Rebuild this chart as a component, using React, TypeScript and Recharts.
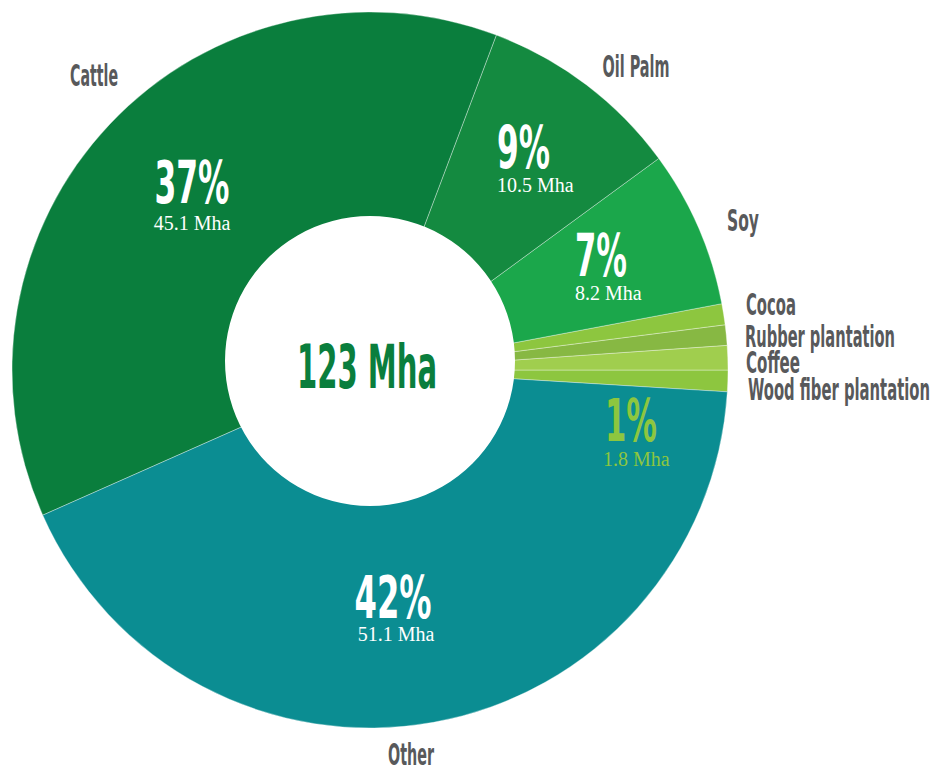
import React from 'react';
import { PieChart, Pie, Cell, Label } from 'recharts';

// Slices in drawing order (counter-clockwise from just below 3 o'clock)
const sliceNames = ['Wood fiber plantation', 'Coffee', 'Rubber plantation', 'Cocoa', 'Soy', 'Oil Palm', 'Cattle', 'Other'];
// Share of the ring as drawn (percent)
const sliceShares = [0.97, 1.1, 0.92, 0.95, 7.1, 9.2, 37.4, 42.4];
const pctLabels = ['1%', '', '', '', '7%', '9%', '37%', '42%'];
const mhaLabels = ['1.8 Mha', '', '', '', '8.2 Mha', '10.5 Mha', '45.1 Mha', '51.1 Mha'];
const totalLabel = '123 Mha';
const holeData = [{ name: 'total', value: 1 }];

const COLORS = ['#8dc63f', '#a0ce4e', '#87b843', '#8dc63f', '#1ba74b', '#148a40', '#0a7e3d', '#0b8d92'];

const data = sliceNames.map((name, i) => ({ name, value: sliceShares[i], pct: pctLabels[i], mha: mhaLabels[i] }));

const CONDENSED = "'Liberation Sans Narrow', 'DejaVu Sans Condensed', 'Arial Narrow', sans-serif";
const SERIF = "'Liberation Serif', 'DejaVu Serif', serif";

type Pos = { dx: number; dy: number; anchor: 'start' | 'middle' | 'end'; w: number };

const NAME_POS: Record<string, Pos> = {
  Cattle: { dx: -276, dy: -284, anchor: 'middle', w: 48 },
  'Oil Palm': { dx: 266, dy: -293, anchor: 'middle', w: 67 },
  Soy: { dx: 373, dy: -139, anchor: 'middle', w: 32 },
  Other: { dx: 41, dy: 395, anchor: 'middle', w: 46 },
  Cocoa: { dx: 376, dy: -55, anchor: 'start', w: 50 },
  'Rubber plantation': { dx: 375, dy: -23, anchor: 'start', w: 150 },
  Coffee: { dx: 376, dy: 3, anchor: 'start', w: 54 },
  'Wood fiber plantation': { dx: 378, dy: 30, anchor: 'start', w: 182 },
};

const PCT_POS: Record<string, { main: Pos; sub: Pos; color: string }> = {
  Cattle: { main: { dx: -178, dy: -167, anchor: 'middle', w: 75 }, sub: { dx: -178, dy: -140, anchor: 'middle', w: 90 }, color: '#ffffff' },
  'Oil Palm': { main: { dx: 127, dy: -202, anchor: 'start', w: 53 }, sub: { dx: 127, dy: -178, anchor: 'start', w: 85 }, color: '#ffffff' },
  Soy: { main: { dx: 205, dy: -94, anchor: 'start', w: 52 }, sub: { dx: 205, dy: -70, anchor: 'start', w: 75 }, color: '#ffffff' },
  Other: { main: { dx: 23, dy: 248, anchor: 'middle', w: 77 }, sub: { dx: 26, dy: 271, anchor: 'middle', w: 82 }, color: '#ffffff' },
  'Wood fiber plantation': { main: { dx: 235, dy: 71, anchor: 'start', w: 52 }, sub: { dx: 233, dy: 96, anchor: 'start', w: 74 }, color: '#8dc63f' },
};

// Condensed text: horizontally squeezed glyphs, exact width via textLength
const CondText = ({ x, y, anchor, w, size, fill, sx, children }: any) => (
  <text
    transform={`translate(${x},${y}) scale(${sx},1)`}
    x={0}
    y={0}
    textAnchor={anchor}
    fill={fill}
    fontFamily={CONDENSED}
    fontWeight={700}
    fontSize={size}
    textLength={w / sx}
    lengthAdjust="spacingAndGlyphs"
  >
    {children}
  </text>
);

const renderLabel = (props: any) => {
  const { cx, cy, index } = props;
  const d = data[index];
  const np = NAME_POS[d.name];
  const pp = PCT_POS[d.name];
  return (
    <g key={`lbl-${index}`}>
      {np && (
        <CondText x={cx + np.dx} y={cy + np.dy} anchor={np.anchor} w={np.w} size={31} sx={0.52} fill="#58595b">
          {d.name}
        </CondText>
      )}
      {pp && d.pct && (
        <CondText x={cx + pp.main.dx} y={cy + pp.main.dy} anchor={pp.main.anchor} w={pp.main.w} size={58} sx={0.72} fill={pp.color}>
          {d.pct}
        </CondText>
      )}
      {pp && d.mha && (
        <text
          x={cx + pp.sub.dx}
          y={cy + pp.sub.dy}
          textAnchor={pp.sub.anchor}
          fill={pp.color}
          fontFamily={SERIF}
          fontSize={20}
        >
          {d.mha}
        </text>
      )}
    </g>
  );
};

const CenterLabel = (props: any) => {
  const vb = props.viewBox || {};
  const cx = vb.cx ?? 370;
  const cy = vb.cy ?? 361;
  return (
    <CondText x={cx - 3} y={cy + 27} anchor="middle" w={140} size={60} sx={0.72} fill="#0a7e3d">
      {totalLabel}
    </CondText>
  );
};

export default function App() {
  return (
    <div style={{ position: 'absolute', left: 0, top: 0, width: 936, height: 771, background: '#ffffff', overflow: 'hidden' }}>
      <PieChart width={936} height={771} margin={{ top: 0, right: 0, bottom: 0, left: 0 }}>
        <Pie
          data={data}
          dataKey="value"
          nameKey="name"
          cx={370}
          cy={370}
          innerRadius={125}
          outerRadius={358}
          startAngle={-3.5}
          endAngle={356.5}
          stroke="#ffffff"
          strokeOpacity={0.35}
          strokeWidth={1}
          label={renderLabel}
          labelLine={false}
          isAnimationActive={false}
        >
          {data.map((d, i) => (
            <Cell key={d.name} fill={COLORS[i]} />
          ))}
        </Pie>
        <Pie
          data={holeData}
          dataKey="value"
          cx={370}
          cy={361}
          innerRadius={0}
          outerRadius={145}
          startAngle={90}
          endAngle={450}
          fill="#ffffff"
          stroke="none"
          isAnimationActive={false}
        >
          <Label position="center" content={<CenterLabel />} />
        </Pie>
      </PieChart>
    </div>
  );
}
